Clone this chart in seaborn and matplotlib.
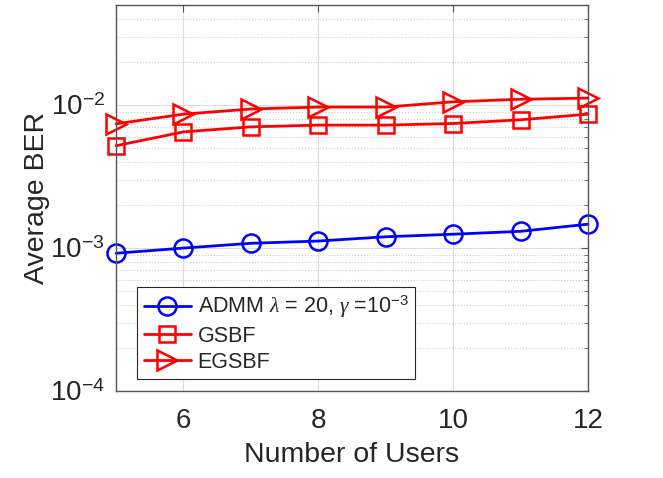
import numpy as np
import pandas as pd
import matplotlib
matplotlib.use("Agg")
import matplotlib.pyplot as plt
import matplotlib.ticker as mticker
import seaborn as sns

users = [5, 6, 7, 8, 9, 10, 11, 12]
ber_admm = [9.2e-4, 1.0e-3, 1.08e-3, 1.12e-3, 1.2e-3, 1.25e-3, 1.31e-3, 1.47e-3]
ber_gsbf = [5.2e-3, 6.5e-3, 7.05e-3, 7.25e-3, 7.25e-3, 7.44e-3, 7.9e-3, 8.65e-3]
ber_egsbf = [7.4e-3, 8.65e-3, 9.4e-3, 9.7e-3, 9.7e-3, 1.055e-2, 1.10e-2, 1.12e-2]
labels = [r'ADMM $\lambda$ = 20, $\gamma$ =10$^{\mathregular{-3}}$', 'GSBF', 'EGSBF']
x_ticks = [6, 8, 10, 12]
y_ticks = [1e-4, 1e-3, 1e-2]

sns.set_style("white")
plt.rcParams['font.family'] = ['Liberation Sans', 'DejaVu Sans']
plt.rcParams['mathtext.fontset'] = 'custom'
plt.rcParams['mathtext.rm'] = 'Liberation Sans'
plt.rcParams['mathtext.it'] = 'Liberation Serif:italic'
plt.rcParams['mathtext.default'] = 'it'

fig = plt.figure(figsize=(6.63, 4.78), dpi=100)
ax = fig.add_axes([0.175, 0.182, 0.712, 0.807])

series = [
    (ber_admm, labels[0], 'blue', 'o', 13),
    (ber_gsbf, labels[1], 'red', 's', 11.5),
    (ber_egsbf, labels[2], 'red', '>', 15),
]
for vals, lab, col, mk, ms in series:
    df = pd.DataFrame({'users': users, 'ber': vals})
    sns.lineplot(data=df, x='users', y='ber', ax=ax, color=col, marker=mk,
                 markersize=ms, markerfacecolor='none', markeredgecolor=col,
                 markeredgewidth=1.8, linewidth=2, label=lab, clip_on=False)

ax.set_yscale('log')
ax.set_xlim(5, 12)
ax.set_ylim(1e-4, 5e-2)
ax.set_xticks(x_ticks)
ax.set_yticks(y_ticks)
ax.yaxis.set_major_formatter(mticker.FuncFormatter(
    lambda v, p: r'10$^{\mathregular{-%d}}$' % abs(int(round(np.log10(v))))))
ax.yaxis.set_minor_locator(mticker.LogLocator(base=10, subs=np.arange(2, 10)))
ax.yaxis.set_minor_formatter(mticker.NullFormatter())

ax.grid(True, which='major', color='#dddddd', linewidth=0.8, linestyle='-')
ax.grid(True, which='minor', axis='y', color='#cccccc', linewidth=0.8, linestyle=':')
ax.set_axisbelow(True)

for s in ax.spines.values():
    s.set_color('#555555')
    s.set_linewidth(1.0)
ax.tick_params(axis='both', which='both', direction='in', top=True, right=True,
               colors='#555555', labelcolor='#262626')
ax.tick_params(axis='both', which='major', labelsize=20, length=5)
ax.tick_params(axis='x', which='major', pad=12)
ax.tick_params(axis='y', which='major', pad=8)
ax.tick_params(axis='y', which='minor', length=3)

ax.set_xlabel('Number of Users', fontsize=20.5, color='#262626', labelpad=6)
ax.set_ylabel('Average BER', fontsize=20.5, color='#262626', labelpad=0)

leg = ax.legend(loc='lower left', bbox_to_anchor=(0.045, 0.03), fontsize=15.5,
                frameon=True, fancybox=False, edgecolor='#262626', framealpha=1,
                borderpad=0.3, labelspacing=0.25, handlelength=2.2, handletextpad=0.3,
                borderaxespad=0)
leg.get_frame().set_linewidth(0.8)

fig.savefig('out.png', dpi=100)
